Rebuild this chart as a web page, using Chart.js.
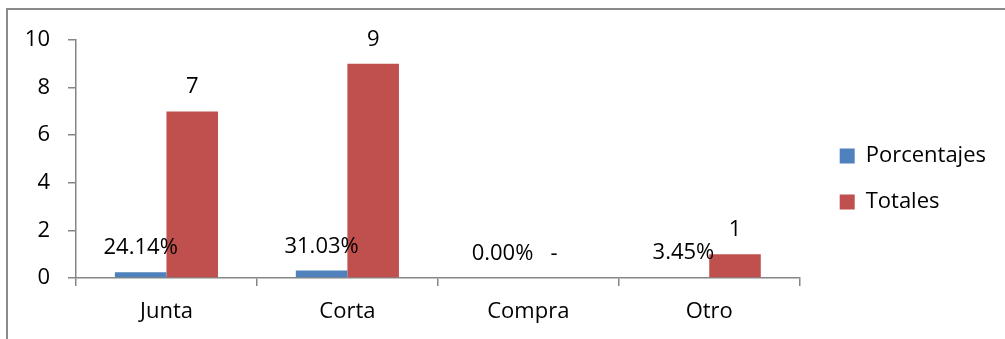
<!DOCTYPE html>
<html>
<head>
<meta charset="utf-8">
<script src="https://cdn.jsdelivr.net/npm/chart.js@4.4.1/dist/chart.umd.min.js"></script>
<style>
    html, body { margin: 0; padding: 0; background: #fff; overflow: hidden; }
    #wrap { position: relative; width: 1005px; height: 339px; }
    #frame { position: absolute; left: 6px; top: 8px; width: 1100px; height: 400px; border: 2px solid #8a8a8a; box-sizing: border-box; }
    #chart { position: absolute; left: 0; top: 0; }
</style>
</head>
<body>
<div id="wrap">
    <div id="frame"></div>
    <canvas id="chart" width="1005" height="339"></canvas>
</div>
<script>
const categories = ['Junta', 'Corta', 'Compra', 'Otro'];
const porcentajes = [0.2414, 0.3103, 0.0, 0.0345];
const totales = [7, 9, 0, 1];
const yTicks = [0, 2, 4, 6, 8, 10];

const FONT = 'Open Sans';
const axisGray = '#868686';

// value labels above each bar (Excel style)
const barLabels = {
    id: 'barLabels',
    afterDatasetsDraw(chart) {
        const ctx = chart.ctx;
        ctx.save();
        ctx.font = `22px "${FONT}"`;
        ctx.fillStyle = '#000';
        ctx.textAlign = 'center';
        ctx.textBaseline = 'alphabetic';
        chart.data.datasets.forEach((ds, di) => {
            const meta = chart.getDatasetMeta(di);
            meta.data.forEach((bar, i) => {
                const v = ds.data[i];
                let txt;
                if (di === 0) txt = (v * 100).toFixed(2) + '%';
                else txt = v === 0 ? '-' : String(v);
                ctx.fillText(txt, bar.x, bar.y - 18);
            });
        });
        ctx.restore();
    }
};

function drawChart() {
    new Chart(document.getElementById('chart'), {
        type: 'bar',
        data: {
            labels: categories,
            datasets: [{
                label: 'Porcentajes',
                data: porcentajes,
                backgroundColor: '#4F81BD',
                borderWidth: 0,
                categoryPercentage: 0.57,
                barPercentage: 1.0
            }, {
                label: 'Totales',
                data: totales,
                backgroundColor: '#C0504D',
                borderWidth: 0,
                categoryPercentage: 0.57,
                barPercentage: 1.0
            }]
        },
        options: {
            responsive: false,
            animation: false,
            layout: { padding: { top: 19, right: 9, bottom: 0, left: 0 } },
            scales: {
                x: {
                    position: 'bottom',
                    grid: { offset: true, drawOnChartArea: false, drawTicks: true, tickLength: 8, color: axisGray, lineWidth: 1.5 },
                    border: { color: axisGray, width: 1.5 },
                    ticks: { color: '#000', font: { family: FONT, size: 22 }, padding: 13 },
                    afterFit: s => { s.height = 61; }
                },
                xTop: {
                    type: 'category',
                    position: 'top',
                    display: true,
                    grid: { display: false },
                    border: { display: false },
                    ticks: { display: false },
                    afterFit: s => { s.height = 21; }
                },
                y: {
                    position: 'left',
                    min: 0,
                    max: 10,
                    afterBuildTicks: s => { s.ticks = yTicks.map(v => ({ value: v })); },
                    grid: { drawOnChartArea: false, drawTicks: true, tickLength: 8, color: axisGray, lineWidth: 1.5 },
                    border: { color: axisGray, width: 1.5 },
                    ticks: { color: '#000', font: { family: FONT, size: 22 }, padding: 18 },
                    afterFit: s => { s.width = 76; }
                },
                yRight: {
                    type: 'linear',
                    position: 'right',
                    display: true,
                    grid: { display: false },
                    border: { display: false },
                    ticks: { display: false },
                    afterFit: s => { s.width = 16; }
                }
            },
            plugins: {
                legend: {
                    position: 'right',
                    maxWidth: 260,
                    labels: {
                        color: '#000',
                        font: { family: FONT, size: 22 },
                        boxWidth: 15,
                        boxHeight: 15,
                        padding: 24
                    }
                },
                tooltip: { enabled: false }
            }
        },
        plugins: [barLabels]
    });
}

// make sure the font is ready before the legend measures its text
document.fonts.load(`22px "${FONT}"`).then(drawChart, drawChart);
</script>
</body>
</html>
